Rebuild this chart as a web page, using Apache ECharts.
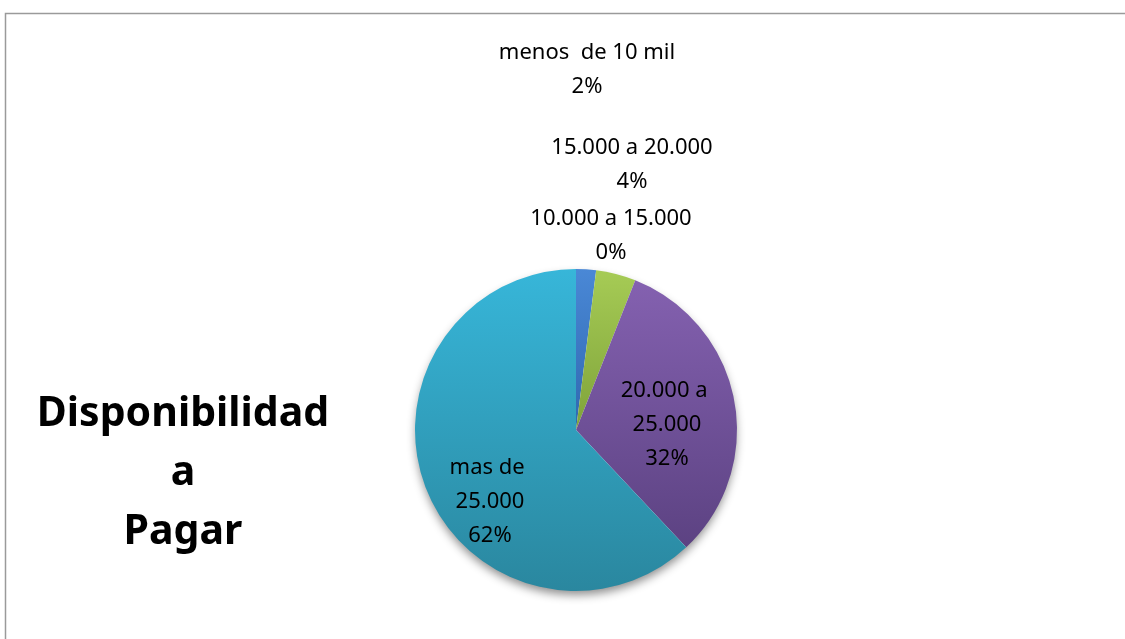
<!DOCTYPE html>
<html>
<head>
<meta charset="utf-8">
<script src="https://cdn.jsdelivr.net/npm/echarts@6/dist/echarts.min.js"></script>
<style>
html,body{margin:0;padding:0;background:#fff;}
#main{width:1125px;height:639px;}
</style>
</head>
<body>
<div id="main"></div>
<script>
const categories = ['menos  de 10 mil', '10.000 a 15.000', '15.000 a 20.000', '20.000 a 25.000', 'mas de 25.000'];
const values = [2, 0, 4, 32, 62];
const titleLines = ['Disponibilidad', 'a', 'Pagar'];

const colorStops = [
  ['#4A88D6', '#2F68B0'],
  ['#C0504D', '#9A3B38'],
  ['#A6CB55', '#7FA33A'],
  ['#8461B0', '#5C4282'],
  ['#37B6D9', '#2A879F']
];
// label anchor points (style only)
const labelPos = [
  {x: 587, y: 70},
  {x: 611, y: 236},
  {x: 632, y: 165},
  {x: 667, y: 425},
  {x: 490, y: 502}
];

const chart = echarts.init(document.getElementById('main'));
const FONT = '"Noto Sans", "Open Sans", sans-serif';

chart.setOption({
  backgroundColor: '#ffffff',
  animation: false,
  graphic: [
    {type: 'rect', shape: {x: 5.5, y: 13.5, width: 1200, height: 700}, style: {fill: 'none', stroke: '#9a9a9a', lineWidth: 1.5}, z: 0},
    {type: 'circle', shape: {cx: 576, cy: 430, r: 160}, style: {fill: '#ffffff', shadowBlur: 10, shadowOffsetY: 5, shadowColor: 'rgba(0,0,0,0.45)'}, z: 0},
    {type: 'text', style: {text: titleLines.join('\n'), x: 183, y: 473, align: 'center', verticalAlign: 'middle',
      font: 'bold 41px ' + FONT, lineHeight: 59, fill: '#000'}, z: 10}
  ],
  series: [{
    type: 'pie',
    center: [576, 430],
    radius: [0, 161],
    startAngle: 90,
    clockwise: true,
    avoidLabelOverlap: false,
    stillShowZeroSum: true,
    minShowLabelAngle: 0,
    z: 5,
    itemStyle: {borderWidth: 0},
    label: {
      show: true,
      formatter: '{b}\n{d}%',
      fontFamily: FONT,
      fontSize: 22,
      lineHeight: 34,
      color: '#000',
      align: 'center'
    },
    labelLine: {show: false},
    labelLayout: function (p) {
      const pos = labelPos[p.dataIndex];
      return {x: pos.x, y: pos.y, align: 'center', verticalAlign: 'middle', hideOverlap: false};
    },
    data: categories.map(function (name, i) {
      const item = {
        name: name,
        value: values[i],
        itemStyle: {
          color: new echarts.graphic.LinearGradient(0, 0, 0, 1, [
            {offset: 0, color: colorStops[i][0]},
            {offset: 1, color: colorStops[i][1]}
          ])
        }
      };
      if (i >= 3) {
        item.label = {position: 'inside', width: 100, overflow: 'break'};
      } else {
        item.label = {position: 'outside'};
      }
      return item;
    })
  }]
});
</script>
</body>
</html>
